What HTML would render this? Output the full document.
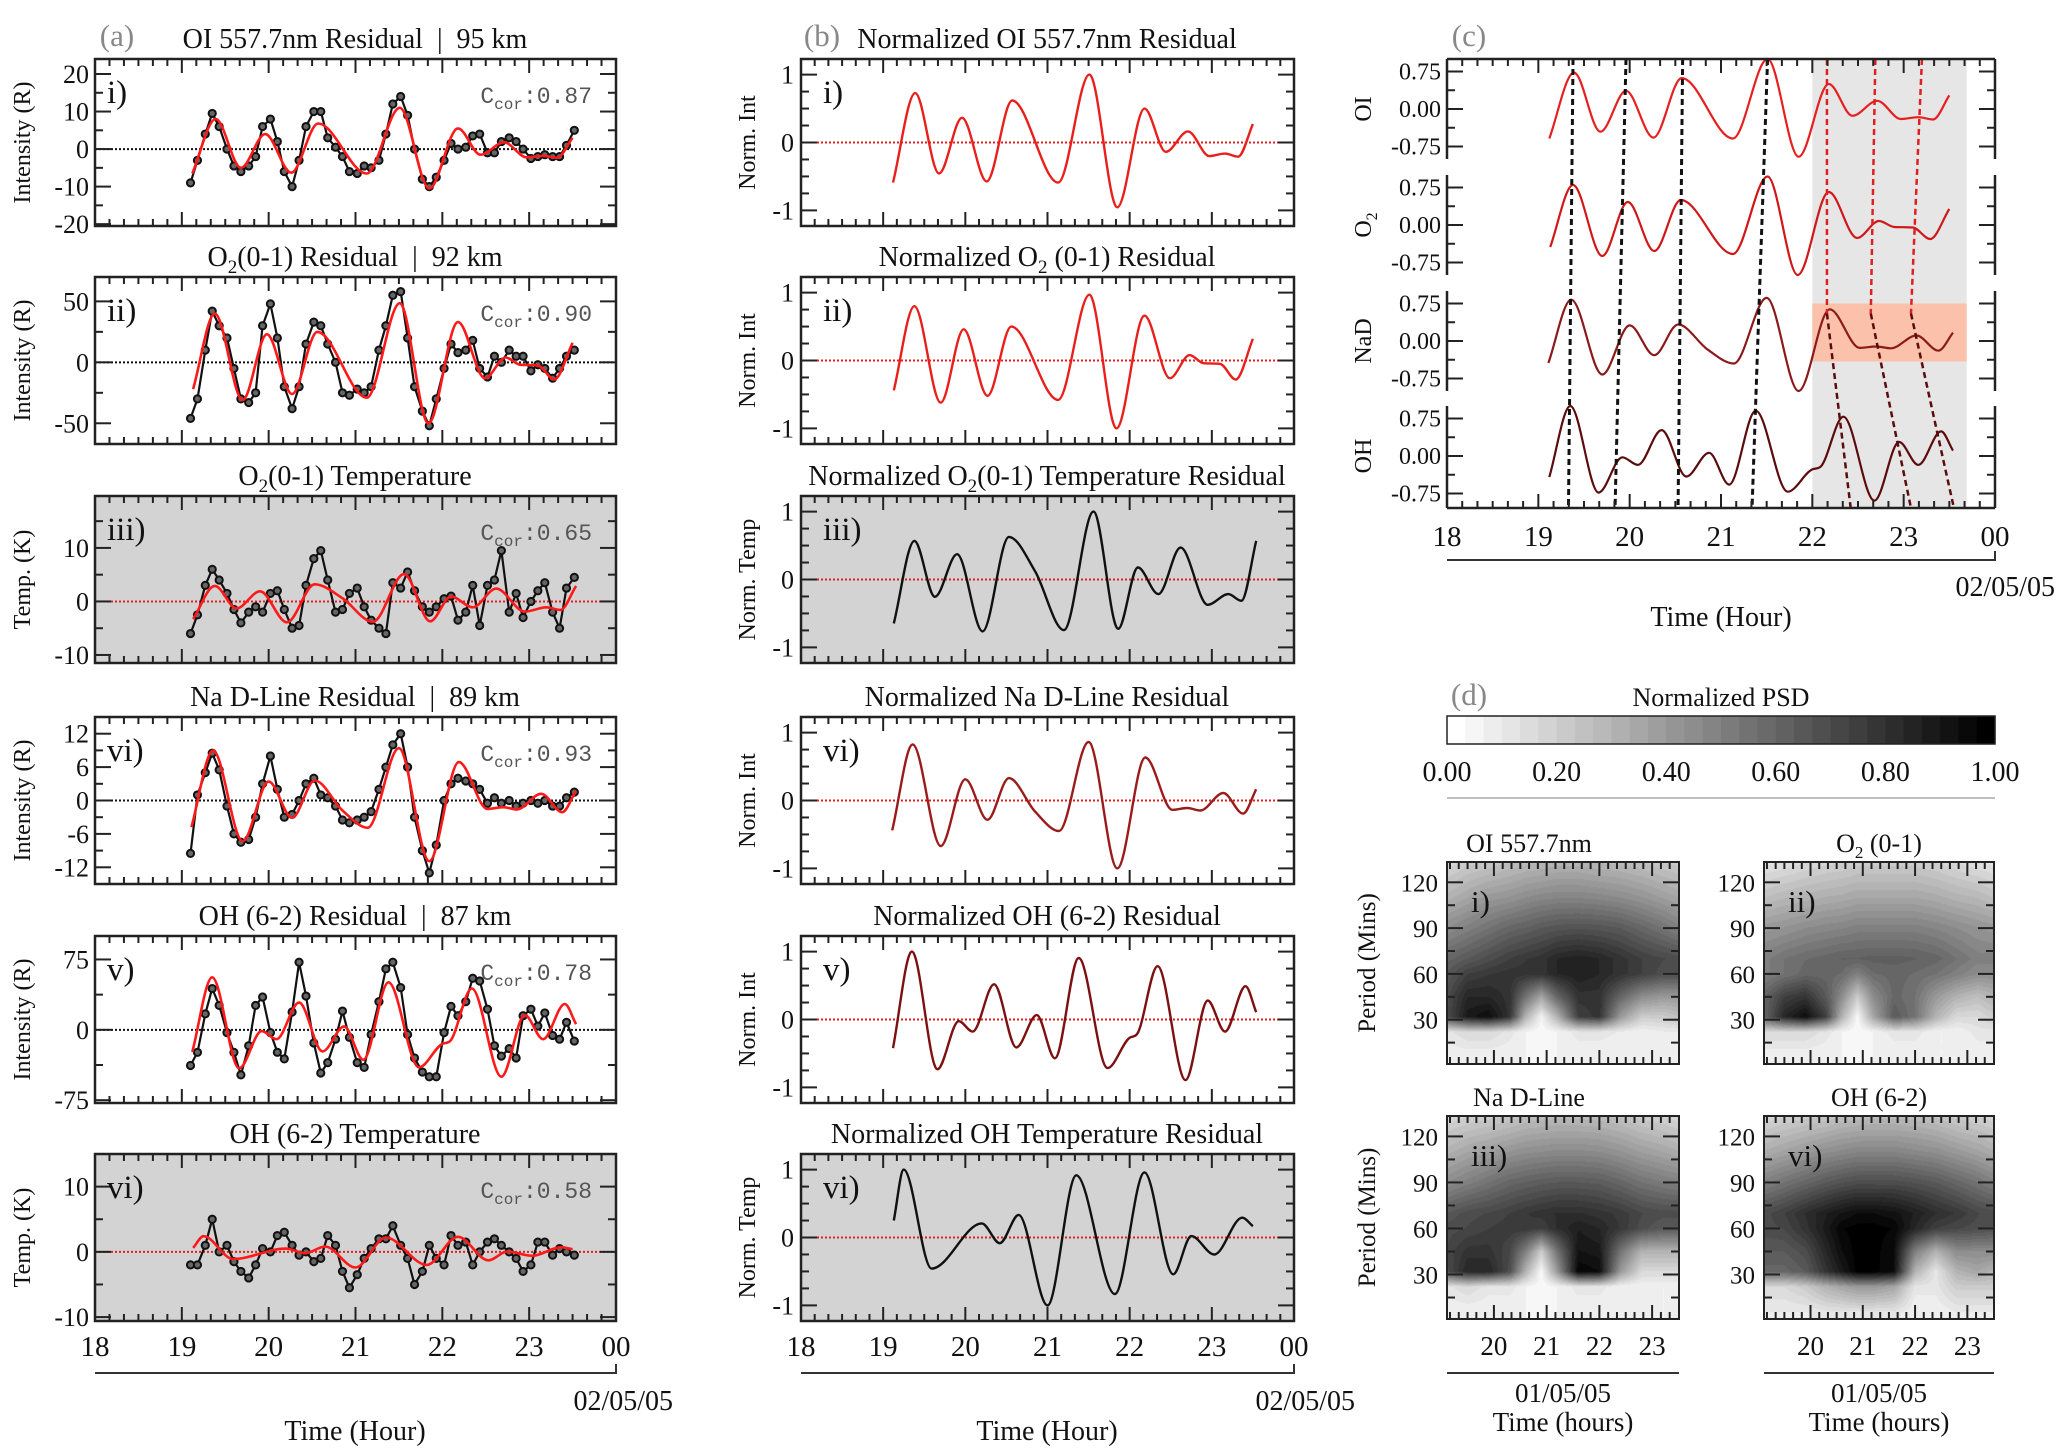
<!DOCTYPE html>
<html><head><meta charset="utf-8">
<style>
body{margin:0;background:#fff;width:2067px;height:1455px;position:relative;overflow:hidden;font-family:"Liberation Serif",serif}
canvas{position:absolute}
svg{position:absolute;left:0;top:0}
</style></head>
<body>
<canvas id="hm0" width="232" height="202" style="left:1447px;top:862px"></canvas>
<canvas id="hm1" width="230" height="202" style="left:1764px;top:862px"></canvas>
<canvas id="hm2" width="232" height="203" style="left:1447px;top:1116px"></canvas>
<canvas id="hm3" width="230" height="203" style="left:1764px;top:1116px"></canvas>
<svg id="fig" width="2067" height="1455" xmlns="http://www.w3.org/2000/svg"></svg>
<script>
// ---------- data ----------
const tGrid=[19.10,19.18,19.27,19.35,19.43,19.52,19.60,19.68,19.77,19.85,19.93,
20.02,20.10,20.18,20.27,20.35,20.43,20.52,20.60,20.68,20.77,20.85,20.93,
21.02,21.10,21.18,21.27,21.35,21.43,21.52,21.60,21.68,21.77,21.85,21.93,
22.02,22.10,22.18,22.27,22.35,22.43,22.52,22.60,22.68,22.77,22.85,22.93,
23.02,23.10,23.18,23.27,23.35,23.43,23.52];
const oiObs=[-9,-3,4,9.5,6,0,-4.5,-6,-4.5,-2,6, 8,2,-6,-10,-3,6,10,10,3,0.5,-2,-6, -6.5,-4.5,-5,-3,4,12,14,9,0,-8,-10,-7.5, -3,1.5,0,0.5,3.5,4,-1,-1,2,3,2,0, -2.5,-2,-1.5,-2,-2,1,5];
const o2Obs=[-46,-30,10,42,30,20,-5,-30,-33,-25,30, 48,20,-20,-38,-20,15,33,30,15,0,-25,-27, -22,-25,-20,10,30,55,58,20,-20,-40,-52,-30, -5,15,8,10,18,-5,-12,5,0,10,5,5, -7,-2,-5,-13,-5,5,10];
const o2tObs=[-6,-2.5,3,6,4,1.5,-1.5,-4,-2,-1,-2, 1.5,2,-1.5,-5,-4.5,3,8,9.5,4,-2,-1.5,1.5, 2.5,-1,-3.5,-5,-6,3.5,2.5,5.5,2,-1,-2,-1, 0.5,1,-3.5,-2,3,-4.5,3,4,9.5,-2,1.5,-3, 0,2,3.5,-2,-5,2.5,4.5];
const naObs=[-9.5,1,5,8.5,5.5,-1,-6,-7.5,-7,-3,3, 8,2,-3,-2.5,0,3,4,1,0.5,-1,-3.5,-4, -3.5,-3,-2,2,6,10,12,6,-3,-9,-13,-8, 0,3,4,3.5,3,2,-0.5,0.5,-0.5,0,-1,-0.5, 0,-0.5,0,-1,-1,0.5,1.5];
const ohObs=[-38,-24,17,44,26,-3,-24,-48,-17,26,35, -3,-24,-31,19,72,36,-14,-46,-35,-10,20,-8, -35,-40,-5,30,65,72,45,-5,-30,-45,-50,-50, -3,25,15,30,55,52,22,-17,-28,-20,-30,15, 22,4,18,-6,-10,8,-12];
const ohtObs=[-2,-2,1,5,0,1,-1.5,-3,-4,-2,0.5, 0,2.5,3,1,-0.5,0,-1.5,-1,2.5,1,-3,-5.5, -3.5,-1,0.5,2,2,4,1,-1,-5,-3,1,-1, -2,2.5,1,1.5,-2,0,1.5,2,1,0,-1,-3, -2,1.5,1.5,-0.5,0.5,0,-0.5];

const oiFitT=[19.12,19.39,19.68,19.96,20.26,20.57,21.13,21.51,21.85,22.18,22.44,22.71,22.97,23.16,23.32,23.5];
const oiFitV=[-6.5,8,-5,4,-6.3,6.8,-6.5,11,-10.5,5.5,-1.5,1.8,-2.2,-1.8,-2.3,3];
const o2FitT=[19.13,19.38,19.7,19.98,20.27,20.56,21.13,21.51,21.84,22.18,22.49,22.73,22.9,23.1,23.29,23.5];
const o2FitV=[-22,40,-31,23,-26,25,-29,48.5,-50,33,-13,4,-2,-2.5,-14,16];
const o2tFitT=[19.13,19.38,19.63,19.9,20.21,20.53,20.85,21.2,21.56,21.86,22.1,22.35,22.62,22.95,23.2,23.36,23.54];
const o2tFitV=[-3.3,2.9,-1.3,1.9,-3.9,3.2,0.6,-3.8,5.1,-3.7,0.9,-1.1,2.4,-1.9,-1.1,-1.6,2.9];
const naFitT=[19.11,19.36,19.7,20.0,20.27,20.53,20.85,21.14,21.5,21.85,22.19,22.52,22.7,22.86,23.14,23.38,23.54];
const naFitV=[-4.8,9,-7.3,3.4,-3.1,3.6,-1.8,-4.9,9.4,-10.9,6.9,-1.5,-1.2,-1.6,1.2,-2.1,1.8];
const ohFitT=[19.12,19.35,19.66,19.92,20.09,20.35,20.62,20.87,21.09,21.38,21.73,22.0,22.09,22.34,22.68,22.95,23.16,23.41,23.54];
const ohFitV=[-23.6,56,-41,-1.4,-10,29,-23,3.6,-32,50.7,-40,-15,-12,44,-50,15.7,-10,27.5,6];
const ohtFitT=[19.13,19.25,19.59,20.2,20.42,20.65,21.0,21.35,21.82,22.18,22.53,22.75,23.03,23.37,23.5];
const ohtFitV=[0.6,2.4,-1.1,0.5,-0.2,0.8,-2.4,2.2,-2.0,2.3,-1.3,0.05,-0.6,0.7,0.4];
const corrValues=["0.87","0.90","0.65","0.93","0.78","0.58"];

const phaseBlackTop=[19.38,19.96,20.58,21.51];
const phaseBlackBot=[19.33,19.84,20.53,21.34];
const phaseRedTop=[22.16,22.69,23.20];
const phaseRedMid=[22.16,22.64,23.08];
const phaseRedBot=[22.42,23.08,23.55];

const hmTimes=[19.1,19.5,19.9,20.3,20.6,20.9,21.2,21.6,22.0,22.4,22.8,23.2,23.5];
const hmPeriods=[5,22,32,45,60,70,90,110,133];
const psdOI=[
[0.05,0.05,0.05,0.05,0.05,0.03,0.05,0.05,0.05,0.05,0.05,0.05,0.05],
[0.1,0.15,0.15,0.1,0.05,0.02,0.05,0.1,0.1,0.08,0.05,0.08,0.08],
[0.7,0.9,0.95,0.8,0.3,0.05,0.3,0.75,0.8,0.4,0.2,0.2,0.25],
[0.7,0.85,0.85,0.8,0.55,0.35,0.6,0.8,0.8,0.6,0.45,0.4,0.4],
[0.65,0.75,0.78,0.8,0.8,0.8,0.85,0.88,0.85,0.8,0.75,0.7,0.7],
[0.6,0.65,0.7,0.75,0.78,0.8,0.85,0.87,0.85,0.8,0.75,0.72,0.7],
[0.45,0.5,0.55,0.6,0.62,0.65,0.67,0.68,0.67,0.65,0.6,0.55,0.5],
[0.3,0.35,0.4,0.42,0.45,0.47,0.48,0.48,0.47,0.45,0.42,0.38,0.35],
[0.15,0.2,0.22,0.25,0.27,0.28,0.3,0.3,0.28,0.27,0.25,0.22,0.2]];
const psdO2=[
[0.05,0.05,0.05,0.05,0.05,0.03,0.05,0.05,0.05,0.05,0.05,0.05,0.05],
[0.15,0.15,0.15,0.1,0.05,0.02,0.05,0.1,0.1,0.05,0.05,0.1,0.1],
[0.6,0.85,0.95,0.75,0.3,0.03,0.35,0.65,0.55,0.3,0.15,0.15,0.2],
[0.6,0.75,0.8,0.65,0.45,0.2,0.45,0.6,0.55,0.4,0.3,0.25,0.3],
[0.5,0.55,0.6,0.6,0.58,0.5,0.58,0.6,0.58,0.55,0.5,0.45,0.45],
[0.5,0.55,0.58,0.6,0.62,0.62,0.63,0.63,0.62,0.6,0.55,0.5,0.5],
[0.4,0.42,0.45,0.47,0.48,0.5,0.5,0.5,0.5,0.48,0.45,0.42,0.4],
[0.25,0.28,0.3,0.32,0.33,0.35,0.35,0.35,0.35,0.33,0.3,0.28,0.25],
[0.1,0.12,0.15,0.17,0.18,0.2,0.2,0.2,0.2,0.18,0.15,0.12,0.1]];
const psdNa=[
[0.05,0.05,0.05,0.05,0.05,0.03,0.05,0.05,0.05,0.05,0.05,0.05,0.05],
[0.1,0.15,0.1,0.1,0.05,0.02,0.05,0.1,0.1,0.05,0.05,0.05,0.05],
[0.7,0.85,0.85,0.7,0.3,0.03,0.4,0.98,0.95,0.4,0.15,0.15,0.15],
[0.72,0.8,0.8,0.72,0.5,0.2,0.55,0.92,0.9,0.55,0.3,0.3,0.3],
[0.7,0.72,0.75,0.77,0.78,0.75,0.82,0.88,0.85,0.78,0.7,0.65,0.65],
[0.65,0.7,0.72,0.75,0.78,0.8,0.82,0.82,0.8,0.77,0.72,0.7,0.7],
[0.45,0.5,0.55,0.6,0.62,0.64,0.65,0.65,0.64,0.6,0.55,0.52,0.5],
[0.3,0.35,0.38,0.42,0.44,0.45,0.46,0.46,0.45,0.42,0.38,0.35,0.32],
[0.15,0.18,0.2,0.22,0.25,0.26,0.27,0.27,0.26,0.24,0.2,0.18,0.16]];
const psdOH=[
[0.08,0.08,0.08,0.1,0.1,0.1,0.1,0.1,0.05,0.05,0.08,0.08,0.08],
[0.15,0.15,0.2,0.3,0.35,0.4,0.4,0.35,0.1,0.1,0.2,0.2,0.2],
[0.6,0.6,0.65,0.8,0.9,1.0,1.0,0.95,0.3,0.1,0.3,0.35,0.3],
[0.65,0.65,0.7,0.85,0.95,1.0,1.0,0.95,0.5,0.3,0.45,0.45,0.45],
[0.7,0.72,0.8,0.9,0.98,1.0,1.0,0.98,0.85,0.75,0.72,0.7,0.68],
[0.7,0.75,0.82,0.88,0.92,0.95,0.95,0.93,0.88,0.82,0.78,0.72,0.7],
[0.5,0.55,0.6,0.65,0.68,0.7,0.7,0.7,0.68,0.65,0.6,0.55,0.5],
[0.32,0.36,0.4,0.44,0.46,0.48,0.48,0.48,0.46,0.44,0.4,0.36,0.32],
[0.15,0.18,0.2,0.22,0.25,0.26,0.27,0.27,0.26,0.24,0.2,0.18,0.16]];
const colorbarTicks=["0.00","0.20","0.40","0.60","0.80","1.00"];
const hourLabels=["18","19","20","21","22","23","00"];

// ---------- helpers ----------
const NS='http://www.w3.org/2000/svg';
const svg=document.getElementById('fig');
function el(tag,attrs,parent){const e=document.createElementNS(NS,tag);for(const k in attrs)e.setAttribute(k,attrs[k]);(parent||svg).appendChild(e);return e;}
function txt(parent,x,y,s,size,anchor,fill,fam){const e=el('text',{x:x,y:y,'font-size':size,'text-anchor':anchor||'middle',fill:fill||'#111','font-family':fam||'"Liberation Serif",serif'},parent);e.innerHTML=s;return e;}
function monoPath(xs,ys){const n=xs.length,d=[],m=[];
 for(let i=0;i<n-1;i++)d[i]=(ys[i+1]-ys[i])/(xs[i+1]-xs[i]);
 m[0]=d[0];m[n-1]=d[n-2];
 for(let i=1;i<n-1;i++)m[i]=(d[i-1]*d[i]<=0)?0:(d[i-1]+d[i])/2;
 for(let i=0;i<n-1;i++){if(d[i]===0){m[i]=0;m[i+1]=0;continue;}const a=m[i]/d[i],b=m[i+1]/d[i],s=a*a+b*b;if(s>9){const t=3/Math.sqrt(s);m[i]=t*a*d[i];m[i+1]=t*b*d[i];}}
 let p='M'+xs[0].toFixed(1)+' '+ys[0].toFixed(1);
 for(let i=0;i<n-1;i++){const h=xs[i+1]-xs[i];p+=' C'+(xs[i]+h/3).toFixed(1)+' '+(ys[i]+m[i]*h/3).toFixed(1)+' '+(xs[i+1]-h/3).toFixed(1)+' '+(ys[i+1]-m[i+1]*h/3).toFixed(1)+' '+xs[i+1].toFixed(1)+' '+ys[i+1].toFixed(1);}
 return p;}
function norm(v){const mx=Math.max(...v.map(Math.abs));return v.map(x=>x/mx);}
function xTicks(g,X,xr,x0,w,yTop,yBot){
 for(let k=Math.ceil(xr[0]*6);k<=Math.floor(xr[1]*6);k++){const x=X(k/6);if(x<x0+1||x>x0+w-1)continue;const L=(k%6===0)?14:7;
  const t1=el('line',{x1:x,x2:x,y1:yBot,y2:yBot-L,stroke:'#222','stroke-width':2},g);
  
  
  const t2=el('line',{x1:x,x2:x,y1:yTop,y2:yTop+L,stroke:'#222','stroke-width':2},g);
  
  }}
function yTicks(g,Y,maj,mn,x0,w){
 maj.concat(mn).forEach((v,i)=>{const L=i<maj.length?16:8;const y=Y(v);
  const a=el('line',{x1:x0,x2:x0+L,y1:y,y2:y,stroke:'#222','stroke-width':2},g);
  
  
  const b=el('line',{x1:x0+w,x2:x0+w-L,y1:y,y2:y,stroke:'#222','stroke-width':2},g);
  
  });}

const tops=[59,277,496,717,936,1154];const H=167;
const XR=[18,24];

// ---------- panel a ----------
const aCfg=[
{obs:oiObs,ft:oiFitT,fv:oiFitV,yr:[-20.5,24],maj:[-20,-10,0,10,20],mn:[-15,-5,5,15],title:'OI 557.7nm Residual&#160;&#160;|&#160;&#160;95 km',yl:'Intensity (R)',rn:'i)',gray:false},
{obs:o2Obs,ft:o2FitT,fv:o2FitV,yr:[-67,70],maj:[-50,0,50],mn:[-25,25],title:'O<tspan dy="7" font-size="19">2</tspan><tspan dy="-7">(0-1) Residual&#160;&#160;|&#160;&#160;92 km</tspan>',yl:'Intensity (R)',rn:'ii)',gray:false},
{obs:o2tObs,ft:o2tFitT,fv:o2tFitV,yr:[-11.5,19.7],maj:[-10,0,10],mn:[-5,5,15],title:'O<tspan dy="7" font-size="19">2</tspan><tspan dy="-7">(0-1) Temperature</tspan>',yl:'Temp. (K)',rn:'iii)',gray:true},
{obs:naObs,ft:naFitT,fv:naFitV,yr:[-15,15],maj:[-12,-6,0,6,12],mn:[-9,-3,3,9],title:'Na D-Line Residual&#160;&#160;|&#160;&#160;89 km',yl:'Intensity (R)',rn:'vi)',gray:false},
{obs:ohObs,ft:ohFitT,fv:ohFitV,yr:[-78,100],maj:[-75,0,75],mn:[-37.5,37.5],title:'OH (6-2) Residual&#160;&#160;|&#160;&#160;87 km',yl:'Intensity (R)',rn:'v)',gray:false},
{obs:ohtObs,ft:ohtFitT,fv:ohtFitV,yr:[-10.6,15],maj:[-10,0,10],mn:[-5,5],title:'OH (6-2) Temperature',yl:'Temp. (K)',rn:'vi)',gray:true}];
const bTitles=['Normalized OI 557.7nm Residual',
'Normalized O<tspan dy="7" font-size="19">2</tspan><tspan dy="-7"> (0-1) Residual</tspan>',
'Normalized O<tspan dy="7" font-size="19">2</tspan><tspan dy="-7">(0-1) Temperature Residual</tspan>',
'Normalized Na D-Line Residual','Normalized OH (6-2) Residual','Normalized OH Temperature Residual'];
const bYl=['Norm. Int','Norm. Int','Norm. Temp','Norm. Int','Norm. Int','Norm. Temp'];
const bCol=['#e8201c','#e8201c','#111','#9b1b1b','#7d1010','#111'];

function panelLetter(x,s){const t=txt(svg,x,46,s,31,'middle','#888');}
panelLetter(117,'(a)');panelLetter(822,'(b)');panelLetter(1469,'(c)');

aCfg.forEach((c,i)=>{
 const x0=95,w=521,y0=tops[i];
 const g=el('g',{});
 
 
 const X=t=>x0+(t-XR[0])/(XR[1]-XR[0])*w, Y=v=>y0+H-(v-c.yr[0])/(c.yr[1]-c.yr[0])*H;
 const bg=el('rect',{x:x0,y:y0,width:w,height:H,fill:c.gray?'#d3d3d3':'#fff'},g);
 
 
 const zl=el('line',{x1:x0,x2:x0+w,y1:Y(0),y2:Y(0),stroke:c.gray?'#e02020':'#111','stroke-width':2,'stroke-dasharray':'2,2'},g);
 
 
 xTicks(g,X,XR,x0,w,y0,y0+H);yTicks(g,Y,c.maj,c.mn,x0,w);
 c.maj.forEach(v=>{const t=txt(g,89,Y(v)+9,String(v),26,'end');});
 const ttl=txt(g,355,y0-11,c.title,28);
 
 
 const yl=txt(g,0,0,c.yl,24);yl.setAttribute('transform','translate(30,'+(y0+H/2)+') rotate(-90)');
 
 
 const rn=txt(g,x0+12,y0+44,c.rn,33,'start');
 
 
 const cc=txt(g,x0+w-24,y0+44,'C<tspan dy="6" font-size="16">cor</tspan><tspan dy="-6">:'+corrValues[i]+'</tspan>',23,'end','#555','"Liberation Mono",monospace');
 
 
 const obsLine=el('polyline',{points:tGrid.map((t,k)=>X(t).toFixed(1)+','+Y(c.obs[k]).toFixed(1)).join(' '),fill:'none',stroke:'#111','stroke-width':2.2},g);
 
 
 tGrid.forEach((t,k)=>{const m=el('circle',{cx:X(t),cy:Y(c.obs[k]),r:3.6,fill:'#666',stroke:'#111','stroke-width':2},g);
  
  });
 const fit=el('path',{d:monoPath(c.ft.map(X),c.fv.map(Y)),fill:'none',stroke:'#ff1a1a','stroke-width':2.6},g);
 
 
 const fr=el('rect',{x:x0,y:y0,width:w,height:H,fill:'none',stroke:'#222','stroke-width':2.5},g);
 
 

 // panel b
 const bx0=801,bw=493;const BYR=[-1.23,1.23];
 const gb=el('g',{});
 
 
 const BX=t=>bx0+(t-XR[0])/(XR[1]-XR[0])*bw, BY=v=>y0+H-(v-BYR[0])/(BYR[1]-BYR[0])*H;
 const bbg=el('rect',{x:bx0,y:y0,width:bw,height:H,fill:c.gray?'#d3d3d3':'#fff'},gb);
 
 
 const bz=el('line',{x1:bx0,x2:bx0+bw,y1:BY(0),y2:BY(0),stroke:'#e02020','stroke-width':2,'stroke-dasharray':'2,2'},gb);
 
 
 xTicks(gb,BX,XR,bx0,bw,y0,y0+H);yTicks(gb,BY,[-1,0,1],[-0.75,-0.5,-0.25,0.25,0.5,0.75],bx0,bw);
 [-1,0,1].forEach(v=>{const t=txt(gb,794,BY(v)+9,String(v),26,'end');});
 const bt=txt(gb,1047,y0-11,bTitles[i],28);
 
 
 const byl=txt(gb,0,0,bYl[i],24);byl.setAttribute('transform','translate(755,'+(y0+H/2)+') rotate(-90)');
 
 
 const brn=txt(gb,bx0+22,y0+44,c.rn,33,'start');
 
 
 const nv=norm(c.fv);
 const bc=el('path',{d:monoPath(c.ft.map(BX),nv.map(BY)),fill:'none',stroke:bCol[i],'stroke-width':2.4},gb);
 
 
 const bfr=el('rect',{x:bx0,y:y0,width:bw,height:H,fill:'none',stroke:'#222','stroke-width':2.5},gb);
 
 
});

function timeAxis(x0,w,yLab,yLine,dateRight,yDate,yTitle,cx){
 const g=el('g',{});
 
 
 hourLabels.forEach((s,k)=>{const t=txt(g,x0+k*w/6,yLab,s,29);});
 const ln=el('path',{d:'M'+x0+' '+yLine+' H'+(x0+w)+' V'+(yLine-9),fill:'none',stroke:'#333','stroke-width':2},g);
 
 
 const d=txt(g,dateRight,yDate,'02/05/05',28,'end');
 const tt=txt(g,cx,yTitle,'Time (Hour)',28);}
timeAxis(95,521,1356,1373,673,1410,1440,355);
timeAxis(801,493,1356,1373,1355,1410,1440,1047);

// ---------- panel c ----------
(function(){
 const x0=1447,w=548;const cTops=[59,175,291,406];const cH=[100,100,100,102];
 const X=t=>x0+(t-XR[0])/(XR[1]-XR[0])*w;
 const Y=(v,i)=>cTops[i]+50-v*50;
 const g=el('g',{});
 
 
 const gr=el('rect',{x:X(22),y:59,width:X(23.69)-X(22),height:449,fill:'#e6e6e6'},g);
 
 
 const sal=el('rect',{x:X(22),y:Y(0.75,2),width:X(23.69)-X(22),height:Y(-0.41,2)-Y(0.75,2),fill:'#fcc1aa'},g);
 
 
 const names=['OI','O<tspan dy="6" font-size="16">2</tspan>','NaD','OH'];
 const series=[[oiFitT,oiFitV,'#e62020'],[o2FitT,o2FitV,'#d01818'],[naFitT,naFitV,'#8b1a1a'],[ohFitT,ohFitV,'#5c0c0c']];
 series.forEach((s,i)=>{
  const Yi=v=>Y(v,i);
  yTicks(g,Yi,[-0.75,0,0.75],[-0.375,0.375],x0,w);
  ['0.75','0.00','-0.75'].forEach((lab,k)=>{const t=txt(g,1441,Yi([0.75,0,-0.75][k])+8,lab,24,'end');});
  const nm=txt(g,0,0,names[i],24);nm.setAttribute('transform','translate(1371,'+(cTops[i]+50)+') rotate(-90)');
  
  
  const side=el('path',{d:'M'+x0+' '+cTops[i]+' V'+(cTops[i]+cH[i])+' M'+(x0+w)+' '+cTops[i]+' V'+(cTops[i]+cH[i]),stroke:'#222','stroke-width':2.5,fill:'none'},g);
  
  
  const cv=el('path',{d:monoPath(s[0].map(X),norm(s[1]).map(Yi)),fill:'none',stroke:s[2],'stroke-width':2.2},g);
  
  
 });
 phaseBlackTop.forEach((t,k)=>{const l=el('line',{x1:X(t),y1:59,x2:X(phaseBlackBot[k]),y2:508,stroke:'#111','stroke-width':3,'stroke-dasharray':'6,4'},g);
  
  });
 const yMid=Y(0.55,2);
 phaseRedTop.forEach((t,k)=>{
  const a=el('line',{x1:X(t),y1:59,x2:X(phaseRedMid[k]),y2:yMid,stroke:'#e02020','stroke-width':2.5,'stroke-dasharray':'6,4'},g);
  
  
  const b=el('line',{x1:X(phaseRedMid[k]),y1:yMid,x2:X(phaseRedBot[k]),y2:508,stroke:'#5c0c0c','stroke-width':2.5,'stroke-dasharray':'6,4'},g);
  
  });
 xTicks(g,X,XR,x0,w,59,508);
 const tb=el('path',{d:'M'+x0+' 59 H'+(x0+w)+' M'+x0+' 508 H'+(x0+w),stroke:'#222','stroke-width':2.5},g);
 
 
 hourLabels.forEach((s,k)=>{const t=txt(g,x0+k*w/6,546,s,29);});
 const ln=el('path',{d:'M'+x0+' 560 H'+(x0+w)+' V551',fill:'none',stroke:'#333','stroke-width':2},g);
 
 
 const d=txt(g,2055,596,'02/05/05',28,'end');
 const tt=txt(g,1721,626,'Time (Hour)',28);
})();

// ---------- panel d ----------
(function(){
 const g=el('g',{});
 
 
 const L=txt(g,1469,705,'(d)',31,'middle','#888');
 const ct=txt(g,1721,706,'Normalized PSD',26);
 const cx0=1447,cw=548,N=30;
 for(let k=0;k<N;k++){const v=k/(N-1);const gv=Math.round(255*(1-v));
  const r=el('rect',{x:cx0+k*cw/N,y:716,width:cw/N+0.6,height:28,fill:'rgb('+gv+','+gv+','+gv+')'},g);
  
  }
 const cf=el('rect',{x:cx0,y:716,width:cw,height:28,fill:'none',stroke:'#222','stroke-width':1.5},g);
 
 
 colorbarTicks.forEach((s,k)=>{const t=txt(g,cx0+k*cw/5,781,s,28);});
 const gl=el('line',{x1:cx0,x2:cx0+cw,y1:798,y2:798,stroke:'#aaa','stroke-width':1.5},g);
 
 

 const maps=[
 {d:psdOI,cv:'hm0',x:1447,y:862,w:232,h:202,title:'OI 557.7nm',rn:'i)',lab:1438},
 {d:psdO2,cv:'hm1',x:1764,y:862,w:230,h:202,title:'O<tspan dy="6" font-size="17">2</tspan><tspan dy="-6"> (0-1)</tspan>',rn:'ii)',lab:1755},
 {d:psdNa,cv:'hm2',x:1447,y:1116,w:232,h:203,title:'Na D-Line',rn:'iii)',lab:1438},
 {d:psdOH,cv:'hm3',x:1764,y:1116,w:230,h:203,title:'OH (6-2)',rn:'vi)',lab:1755}];
 const HXR=[19.11,23.51],HYR=[1,133.3];
 maps.forEach((m,mi)=>{
  const cvs=document.getElementById(m.cv);const ctx=cvs.getContext('2d');const img=ctx.createImageData(m.w,m.h);
  for(let py=0;py<m.h;py++){const P=HYR[1]-(py+0.5)/m.h*(HYR[1]-HYR[0]);
   let r=0;while(r<hmPeriods.length-2&&P>hmPeriods[r+1])r++;let fy=(P-hmPeriods[r])/(hmPeriods[r+1]-hmPeriods[r]);fy=Math.max(0,Math.min(1,fy));
   for(let px=0;px<m.w;px++){const T=HXR[0]+(px+0.5)/m.w*(HXR[1]-HXR[0]);
    let c=0;while(c<hmTimes.length-2&&T>hmTimes[c+1])c++;let fx=(T-hmTimes[c])/(hmTimes[c+1]-hmTimes[c]);fx=Math.max(0,Math.min(1,fx));
    const v=(m.d[r][c]*(1-fx)+m.d[r][c+1]*fx)*(1-fy)+(m.d[r+1][c]*(1-fx)+m.d[r+1][c+1]*fx)*fy;
    const q=Math.round(v*30)/30;const gv=Math.round(255*(1-q));const o=(py*m.w+px)*4;
    img.data[o]=gv;img.data[o+1]=gv;img.data[o+2]=gv;img.data[o+3]=255;}}
  ctx.putImageData(img,0,0);
  const gm=el('g',{},g);
  
  
  const X=t=>m.x+(t-HXR[0])/(HXR[1]-HXR[0])*m.w, Y=p=>m.y+m.h-(p-HYR[0])/(HYR[1]-HYR[0])*m.h;
  xTicks(gm,X,HXR,m.x,m.w,m.y,m.y+m.h);yTicks(gm,Y,[30,60,90,120],[15,45,75,105],m.x,m.w);
  [30,60,90,120].forEach(p=>{const t=txt(gm,m.lab,Y(p)+9,String(p),25,'end');});
  const fr=el('rect',{x:m.x,y:m.y,width:m.w,height:m.h,fill:'none',stroke:'#222','stroke-width':2},gm);
  
  
  const tt=txt(gm,m.x+m.w/2-(mi%2===0?34:0),m.y-10,m.title,26);
  const rn=txt(gm,m.x+24,m.y+50,m.rn,31,'start');
  if(mi%2===0){const yl=txt(gm,0,0,'Period (Mins)',25);yl.setAttribute('transform','translate(1375,'+(m.y+m.h/2)+') rotate(-90)');}
  if(mi>=2){
   [20,21,22,23].forEach(h=>{const t=txt(gm,X(h),1355,String(h),27);});
   const ln=el('line',{x1:m.x,x2:m.x+m.w,y1:1373,y2:1373,stroke:'#333','stroke-width':2},gm);
   
   
   const dl=txt(gm,m.x+m.w/2,1402,'01/05/05',27);
   const tl=txt(gm,m.x+m.w/2,1431,'Time (hours)',27);
  }
 });
})();
</script>
</body></html>
